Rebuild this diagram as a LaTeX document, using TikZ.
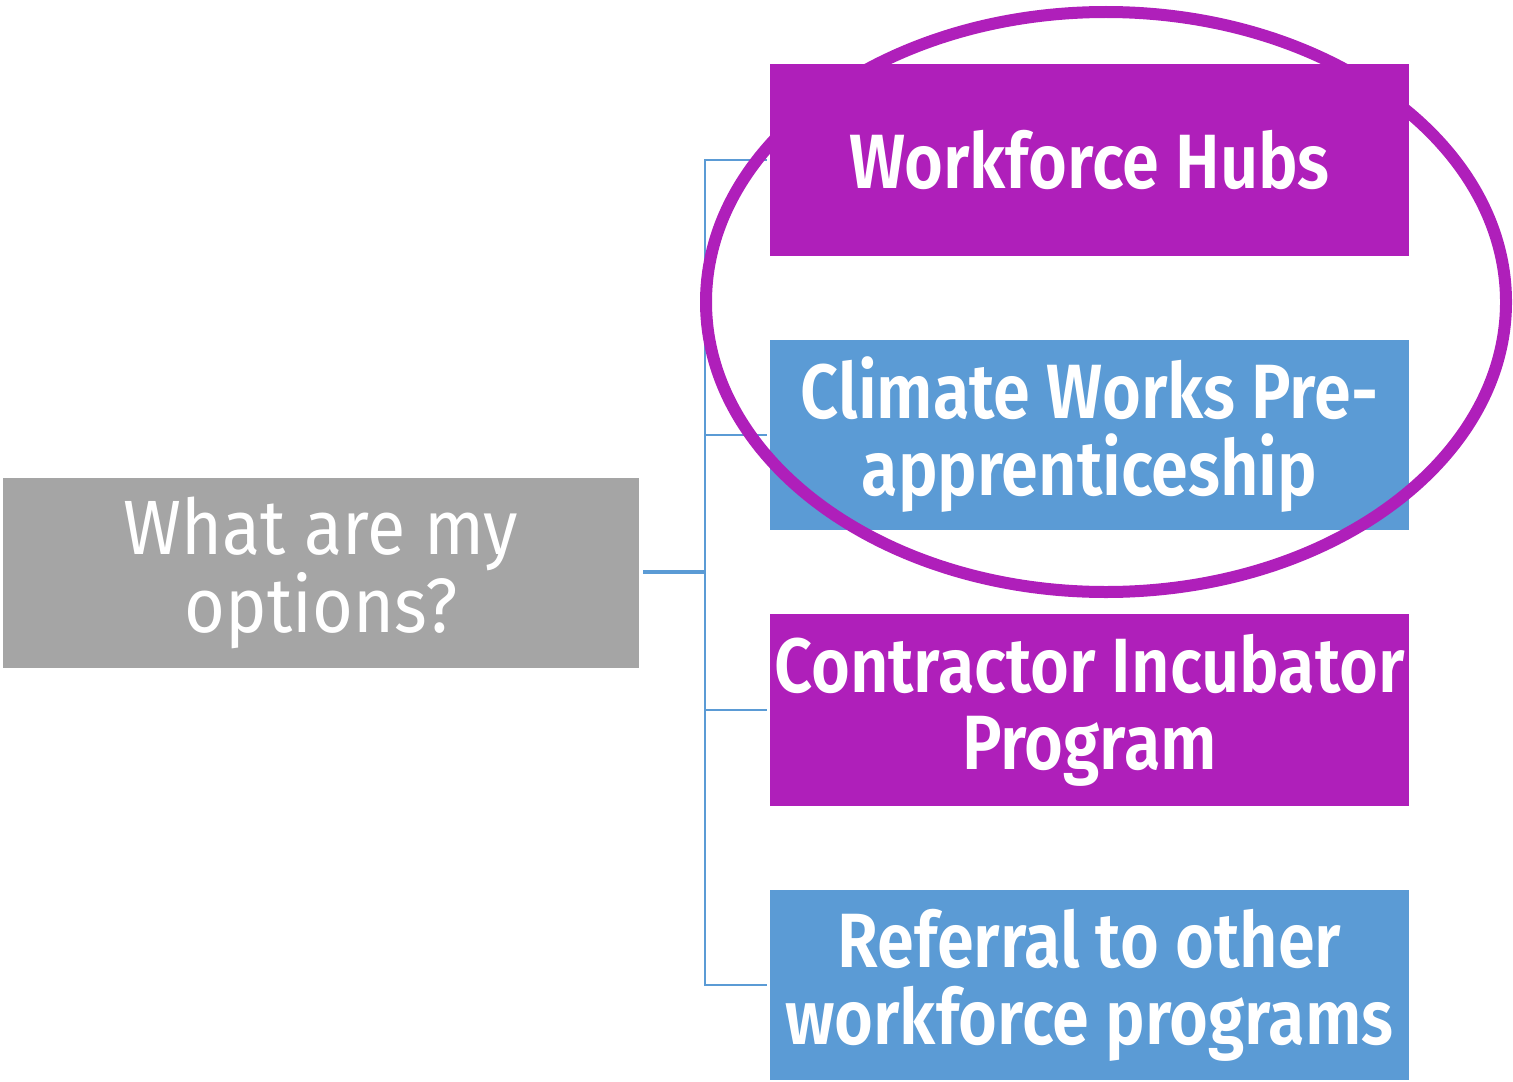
\documentclass[tikz,border=0pt]{standalone}
\usepackage{fontspec}
\setmainfont{Fira Sans}[FakeStretch=0.91]
\newfontfamily\boxfont{Fira Sans}[FakeStretch=0.865,UprightFont=* Medium,BoldFont=* SemiBold]
\definecolor{hubpurple}{RGB}{175,31,186}
\definecolor{optblue}{RGB}{91,155,213}
\definecolor{qgray}{RGB}{165,165,165}
\tikzset{
  optbox/.style={rectangle, inner sep=0pt, minimum width=319.5pt, text=white, align=center,
                 font=\boxfont\bfseries\fontsize{38.5}{38.5}\selectfont},
  qbox/.style={rectangle, fill=qgray, inner sep=0pt, minimum width=318pt, minimum height=95pt,
               text=white, align=center, font=\fontsize{38.5}{37.5}\selectfont},
  link/.style={draw=optblue, line width=1.2pt},
  mainlink/.style={draw=optblue, line width=1.6pt},
  ring/.style={draw=hubpurple, line width=6pt}
}
\begin{document}
\begin{tikzpicture}[x=0.5pt,y=-0.5pt]
\useasboundingbox (0,0) rectangle (1513,1081);
\node[qbox] (q) at (321,573) {What are my\\options?};
\node[optbox, fill=hubpurple, minimum height=96pt] (wh) at (1089.5,160) {Workforce Hubs};
\node[optbox, fill=optblue, minimum height=95pt] (cw) at (1089.5,435) {Climate Works Pre-\\apprenticeship};
\node[optbox, fill=hubpurple, minimum height=96pt] (ci) at (1089.5,710) {Contractor Incubator\\Program};
\node[optbox, fill=optblue, minimum height=95pt] (rf) at (1089.5,985) {Referral to other\\workforce programs};
\coordinate (j) at (705,572);
\draw[mainlink] ([xshift=2pt]q.east |- j) -- (j);
\draw[link] ([xshift=-1.5pt]wh.west) -| (j);
\draw[link] ([xshift=-1.5pt]cw.west) -| (j);
\draw[link] ([xshift=-1.5pt]ci.west) -| (j);
\draw[link] ([xshift=-1.5pt]rf.west) -| (j);
\coordinate (ringc) at (1106,302);
\draw[ring] (ringc) ellipse [x radius=200pt, y radius=145pt];
\end{tikzpicture}
\end{document}
